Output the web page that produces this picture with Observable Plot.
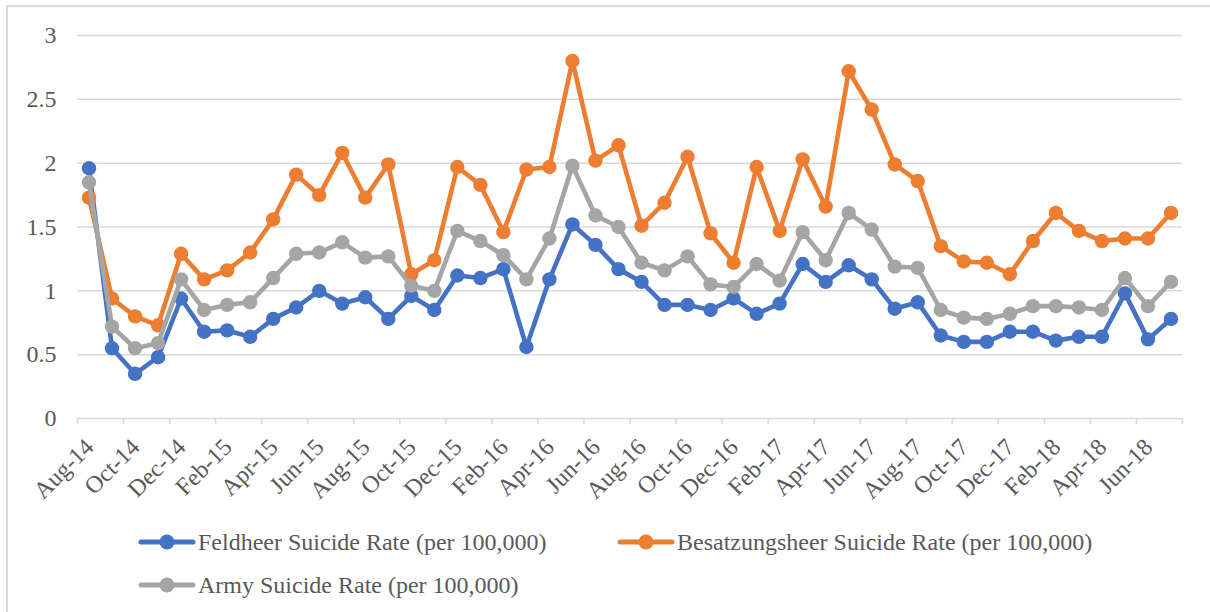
<!DOCTYPE html>
<html>
<head>
<meta charset="utf-8">
<script src="https://cdn.jsdelivr.net/npm/d3@7"></script>
<script src="https://cdn.jsdelivr.net/npm/@observablehq/plot@0.6"></script>
<style>
  html, body { margin: 0; padding: 0; background: #fff; overflow: hidden; }
  body { width: 1210px; height: 612px; position: relative; font-family: "Liberation Serif", "Times New Roman", serif; }
  #frame { position: absolute; left: 6px; top: 5px; width: 1300px; height: 700px; border: 2px solid #d9d9d9; box-sizing: border-box; }
  #chart { position: absolute; left: 0; top: 0; }
  .legend-item { position: absolute; height: 28px; display: flex; align-items: center; font-size: 24px; color: #595959; white-space: nowrap; }
  .legend-item svg { margin-right: 2px; }
</style>
</head>
<body>
<div id="frame"></div>
<div id="chart"></div>
<div id="legend"></div>
<script>
// Monthly categories, Aug 2014 – Jul 2018
const months = [
  "Aug-14", "Sep-14", "Oct-14", "Nov-14", "Dec-14",
  "Jan-15", "Feb-15", "Mar-15", "Apr-15", "May-15", "Jun-15", "Jul-15", "Aug-15", "Sep-15", "Oct-15", "Nov-15", "Dec-15",
  "Jan-16", "Feb-16", "Mar-16", "Apr-16", "May-16", "Jun-16", "Jul-16", "Aug-16", "Sep-16", "Oct-16", "Nov-16", "Dec-16",
  "Jan-17", "Feb-17", "Mar-17", "Apr-17", "May-17", "Jun-17", "Jul-17", "Aug-17", "Sep-17", "Oct-17", "Nov-17", "Dec-17",
  "Jan-18", "Feb-18", "Mar-18", "Apr-18", "May-18", "Jun-18", "Jul-18"
];

// Suicide rates per 100,000
const feldheer = [
  1.96, 0.55, 0.35, 0.48, 0.94, 0.68, 0.69, 0.64, 0.78, 0.87, 1.00, 0.90,
  0.95, 0.78, 0.96, 0.85, 1.12, 1.10, 1.17, 0.56, 1.09, 1.52, 1.36, 1.17,
  1.07, 0.89, 0.89, 0.85, 0.94, 0.82, 0.90, 1.21, 1.07, 1.20, 1.09, 0.86,
  0.91, 0.65, 0.60, 0.60, 0.68, 0.68, 0.61, 0.64, 0.64, 0.98, 0.62, 0.78
];
const besatzungsheer = [
  1.73, 0.94, 0.80, 0.73, 1.29, 1.09, 1.16, 1.30, 1.56, 1.91, 1.75, 2.08,
  1.73, 1.99, 1.13, 1.24, 1.97, 1.83, 1.46, 1.95, 1.97, 2.80, 2.02, 2.14,
  1.51, 1.69, 2.05, 1.45, 1.22, 1.97, 1.47, 2.03, 1.66, 2.72, 2.42, 1.99,
  1.86, 1.35, 1.23, 1.22, 1.13, 1.39, 1.61, 1.47, 1.39, 1.41, 1.41, 1.61
];
const army = [
  1.85, 0.72, 0.55, 0.59, 1.09, 0.85, 0.89, 0.91, 1.10, 1.29, 1.30, 1.38,
  1.26, 1.27, 1.04, 1.00, 1.47, 1.39, 1.28, 1.09, 1.41, 1.98, 1.59, 1.50,
  1.22, 1.16, 1.27, 1.05, 1.03, 1.21, 1.08, 1.46, 1.24, 1.61, 1.48, 1.19,
  1.18, 0.85, 0.79, 0.78, 0.82, 0.88, 0.88, 0.87, 0.85, 1.10, 0.88, 1.07
];

const seriesNames = [
  "Feldheer Suicide Rate (per 100,000)",
  "Besatzungsheer Suicide Rate (per 100,000)",
  "Army Suicide Rate (per 100,000)"
];
const seriesColors = ["#4472C4", "#ED7D31", "#A5A5A5"];
const yTicks = [0, 0.5, 1, 1.5, 2, 2.5, 3];

const seriesValues = [feldheer, besatzungsheer, army];
const rows = seriesValues.map((vals, s) =>
  vals.map((v, i) => ({series: seriesNames[s], i, month: months[i], value: v}))
);

// Category index positions: tick marks sit between every second pair of months,
// labels on every second month
const boundaries = d3.range(-0.5, months.length + 0.5, 2);
const labelTicks = d3.range(0, months.length, 2);

const textColor = "#595959";
const gridColor = "#d9d9d9";

const seriesMarks = rows.flatMap((data, s) => [
  Plot.line(data, {x: "i", y: "value", stroke: seriesColors[s], strokeWidth: 4.6, strokeLinejoin: "round", strokeLinecap: "round"}),
  Plot.dot(data, {x: "i", y: "value", r: 7.2, fill: seriesColors[s], stroke: "none"})
]);

const chart = Plot.plot({
  width: 1210,
  height: 510,
  marginLeft: 77,
  marginRight: 28,
  marginTop: 35,
  marginBottom: 92,
  style: {fontFamily: "'Liberation Serif', 'Times New Roman', serif", fontSize: "24px", color: textColor, background: "transparent"},
  x: {type: "linear", domain: [-0.5, months.length - 0.5]},
  y: {domain: [0, 3]},
  marks: [
    Plot.gridY(yTicks.filter(d => d > 0), {stroke: gridColor, strokeOpacity: 1, strokeWidth: 1.5}),
    Plot.axisY(yTicks, {tickSize: 0, tickPadding: 21, tickFormat: d => String(d), fontSize: 24, fill: textColor, label: null}),
    Plot.ruleY([0], {stroke: gridColor, strokeWidth: 1.5}),
    Plot.axisX(boundaries, {tickSize: 6, stroke: gridColor, strokeOpacity: 1, strokeWidth: 1.5, tickFormat: () => "", label: null}),
    Plot.text(labelTicks, {
      x: d => d,
      text: d => months[d],
      frameAnchor: "bottom",
      rotate: -45,
      textAnchor: "end",
      lineAnchor: "bottom",
      dx: 6,
      dy: 30,
      fontSize: 24,
      fill: textColor
    }),
    ...seriesMarks
  ]
});
document.getElementById("chart").appendChild(chart);

// Legend below the plot
const legendPos = [
  {left: 138, top: 528},
  {left: 617, top: 528},
  {left: 138, top: 571}
];
const legend = document.getElementById("legend");
seriesNames.forEach((name, s) => {
  const item = document.createElement("div");
  item.className = "legend-item";
  item.style.left = legendPos[s].left + "px";
  item.style.top = legendPos[s].top + "px";
  item.innerHTML =
    `<svg width="58" height="18" viewBox="0 0 58 18">
       <line x1="3" y1="9" x2="55" y2="9" stroke="${seriesColors[s]}" stroke-width="5" stroke-linecap="round"/>
       <circle cx="29" cy="9" r="7.5" fill="${seriesColors[s]}"/>
     </svg><span>${name}</span>`;
  legend.appendChild(item);
});
</script>
</body>
</html>
